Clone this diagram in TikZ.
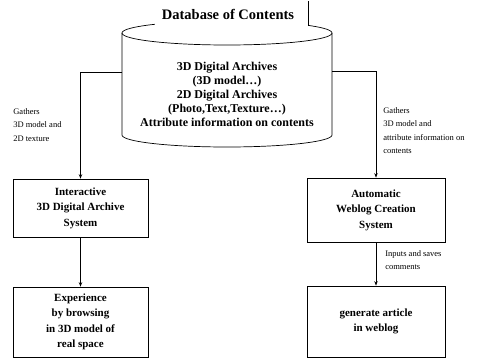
\documentclass[tikz,border=0pt]{standalone}
\usepackage{fontspec}
\setmainfont{Liberation Serif}
\usetikzlibrary{arrows.meta}

\begin{document}
\begin{tikzpicture}[x=1pt,y=-1pt,line width=0.7pt,
 box/.style={draw,align=center,inner sep=0pt,font=\bfseries\fontsize{11}{15.5}\selectfont},
 note/.style={anchor=west,align=left,inner sep=0pt,font=\fontsize{8.5}{13.5}\selectfont},
 link/.style={-{Stealth[length=4.5pt,width=3.5pt]}}]
\useasboundingbox (0,0) rectangle (501,359);
\draw (122,33) -- (122,135) arc[start angle=180,end angle=0,x radius=105,y radius=12] -- (332,33);
\draw (227,33) ellipse[x radius=105,y radius=12];
\fill[white] (155,0) rectangle (308,26);
\draw (308,1) -- (308,26);
\node[font=\bfseries\fontsize{14.5}{16}\selectfont] (title) at (228,14) {Database of Contents};
\node[align=center,font=\bfseries\fontsize{12}{14}\selectfont] (db) at (227,94.5) {3D Digital Archives\\(3D model…)\\2D Digital Archives\\(Photo,Text,Texture…)\\Attribute information on contents};
\coordinate (dbW) at (122,72);
\coordinate (dbE) at (332,71);
\node[box,minimum width=135,minimum height=58] (iads) at (80.5,208) {Interactive\\3D Digital Archive\\System};
\node[box,minimum width=135,minimum height=70] (exp) at (80.5,322) {Experience\\by browsing\\in 3D model of\\real space};
\node[box,minimum width=138,minimum height=64] (awcs) at (376,210) {Automatic\\Weblog Creation\\System};
\node[box,minimum width=138,minimum height=71] (art) at (376,321.5) {generate article\\in weblog};
\draw[link] (dbW) -| (iads);
\draw[link] (dbE) -| (awcs);
\draw[link] (iads) -- (exp);
\draw[link] (awcs) -- (art);
\node[note] (gl) at (13,125) {Gathers\\3D model and\\2D texture};
\node[note] (gr) at (383,130.5) {Gathers\\3D model and\\attribute information on\\contents};
\node[note] (ic) at (385,260) {Inputs and saves\\comments};
\end{tikzpicture}
\end{document}
